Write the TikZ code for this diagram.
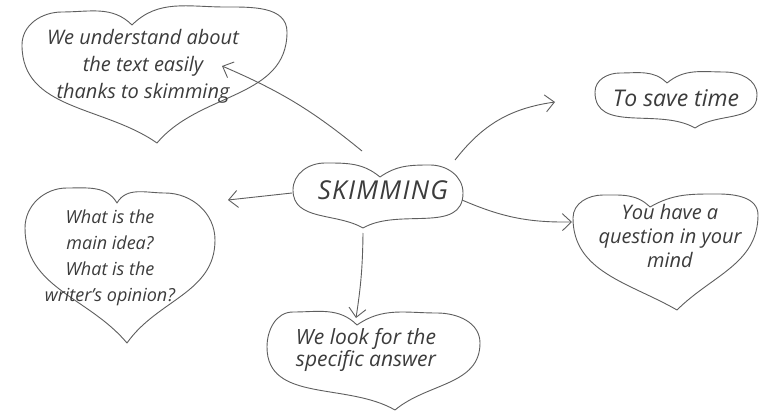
\documentclass[tikz,border=0pt]{standalone}
\usepackage{fontspec}
\setmainfont{Open Sans}
\usetikzlibrary{arrows.meta}
\definecolor{pencil}{HTML}{5E5E5E}
\definecolor{ink}{HTML}{3C3C3C}
\tikzset{
  heartline/.style={draw=pencil, line width=0.9pt, line join=round},
  handtext/.style={text=ink, align=center, font=\itshape},
  link/.style={draw=pencil, line width=0.9pt, -{Straight Barb[length=9pt,width=17pt,line width=0.9pt]}},
}
\begin{document}
\begin{tikzpicture}[x=1pt,y=1pt]
\useasboundingbox[fill=white] (0,0) rectangle (760,-414);

% heart 1
\draw[heartline] (132,-25) to[out=135,in=0] (62,-12) to[out=180,in=90] (22,-45)
  to[out=-90,in=145] (157,-143) to[out=50,in=-90] (287,-32) to[out=90,in=0] (225,-7)
  to[out=180,in=45] (132,-25) -- cycle;
% heart 2
\draw[heartline] (667,-83) to[out=135,in=0] (620,-73) to[out=180,in=90] (595,-92)
  to[out=-90,in=150] (695,-128) to[out=35,in=-90] (757,-95) to[out=90,in=0] (725,-72)
  to[out=180,in=40] (667,-83) -- cycle;
% heart 3
\draw[heartline] (117,-203) to[out=120,in=0] (67,-188) to[out=180,in=90] (25,-228)
  to[out=-90,in=130] (127,-343) to[out=55,in=-90] (215,-240) to[out=90,in=0] (165,-193)
  to[out=180,in=60] (117,-203) -- cycle;
% heart 4 (SKIMMING)
\draw[heartline] (380,-177) to[out=140,in=0] (325,-163) to[out=180,in=90] (293,-190)
  to[out=-90,in=150] (363,-228) to[out=30,in=-90] (463,-193) to[out=90,in=0] (430,-165)
  to[out=180,in=35] (380,-177) -- cycle;
% heart 5
\draw[heartline] (650,-207) to[out=135,in=0] (603,-195) to[out=180,in=90] (573,-218)
  to[out=-90,in=150] (677,-310) to[out=45,in=-90] (758,-215) to[out=90,in=0] (718,-194)
  to[out=180,in=30] (650,-207) -- cycle;
% heart 6
\draw[heartline] (357,-325) to[out=135,in=0] (293,-312) to[out=180,in=90] (267,-347)
  to[out=-90,in=150] (395,-410) to[out=40,in=-90] (480,-343) to[out=90,in=0] (437,-313)
  to[out=180,in=35] (357,-325) -- cycle;

% texts
\node[handtext, font=\itshape\fontsize{20}{27}\selectfont] (t1) at (143,-66)
  {We understand about\\the text easily\\thanks to skimming};
\node[handtext, font=\itshape\fontsize{23}{26}\selectfont] (t2) at (676,-98) {To save time};
\node[handtext, font=\itshape\fontsize{18}{26}\selectfont] (t3) at (110,-258)
  {What is the\\main idea?\\What is the\\writer's opinion?};
\node[handtext, font=\itshape\fontsize{26}{28}\selectfont\addfontfeatures{LetterSpace=5}] (t4) at (383,-190) {SKIMMING};
\node[handtext, font=\itshape\fontsize{20}{24}\selectfont] (t5) at (670,-236)
  {You have a\\question in your\\mind};
\node[handtext, font=\itshape\fontsize{21}{22}\selectfont] (t6) at (366,-350)
  {We look for the\\specific answer};

% connector end points
\coordinate (s1) at (362,-151);
\coordinate (e1) at (222,-66);
\coordinate (s2) at (455,-160);
\coordinate (e2) at (555,-102);
\coordinate (s3) at (292,-193);
\coordinate (e3) at (228,-200);
\coordinate (s4) at (462,-200);
\coordinate (e4) at (572,-222);
\coordinate (s5) at (363,-233);
\coordinate (e5) at (356,-318);

\draw[link] (s1) to[bend right=8] (e1);
\draw[link] (s2) to[bend left=22] (e2);
\draw[link] (s3) -- (e3);
\draw[link] (s4) to[bend right=12] (e4);
\draw[link] (s5) to[bend left=4] (e5);
\end{tikzpicture}
\end{document}
